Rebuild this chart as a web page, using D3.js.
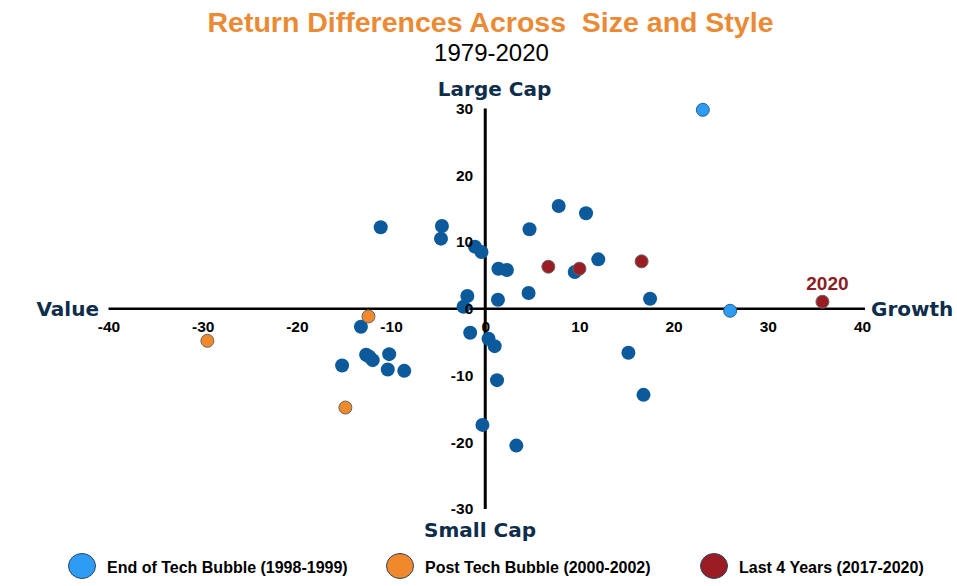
<!DOCTYPE html>
<html>
<head>
<meta charset="utf-8">
<script src="https://cdn.jsdelivr.net/npm/d3@7"></script>
<style>
  body { margin: 0; background: #fff; }
</style>
</head>
<body>
<div id="chart"></div>
<script>
// tick values
const xTicks = [-40, -30, -20, -10, 0, 10, 20, 30, 40];
const yTicks = [-30, -20, -10, 0, 10, 20, 30];

// growth minus value (x), large minus small (y), yearly return differences
const otherX = [-11.1, -4.6, -4.7, -1.1, -0.4, 1.4, 2.3, -1.9, -2.3, 1.35, 4.7, 7.8, 10.7, 9.5, 12.0, 4.6, 17.5,
  15.2, 16.8, -13.2, -12.65, -12.3, -11.95, -10.2, -15.2, -10.35, -8.6, -1.6, 0.35, 1.0, 1.25, -0.3, 3.3];
const otherY = [12.2, 12.4, 10.5, 9.3, 8.5, 6.0, 5.8, 1.9, 0.3, 1.35, 11.9, 15.4, 14.3, 5.5, 7.4, 2.35, 1.5,
  -6.6, -12.9, -2.7, -6.9, -7.2, -7.7, -6.8, -8.5, -9.1, -9.3, -3.6, -4.5, -5.6, -10.7, -17.4, -20.5];

const techBubbleX = [23.1, 26.0];
const techBubbleY = [29.8, -0.3];

const postBubbleX = [-12.4, -29.5, -14.85];
const postBubbleY = [-1.15, -4.8, -14.8];

const lastYearsX = [6.7, 10.0, 16.6, 35.8];
const lastYearsY = [6.3, 6.0, 7.1, 1.05];
const lastYearsLabels = ["", "", "", "2020"];

const legendLabels = ["End of Tech Bubble (1998-1999)", "Post Tech Bubble (2000-2002)", "Last 4 Years (2017-2020)"];
const legendColors = ["#2f9cf4", "#f0892c", "#9a1d24"];

const width = 957, height = 586;
const xScale = d3.scaleLinear([-40, 40], [108.5, 862]);
const yScale = d3.scaleLinear([-30, 30], [509, 108.5]);

const svg = d3.select("#chart").append("svg")
    .attr("width", width)
    .attr("height", height)
    .attr("viewBox", [0, 0, width, height])
    .attr("font-family", "'Liberation Sans', Arial, sans-serif");

// titles
svg.append("text")
    .attr("x", 490.5).attr("y", 31.5)
    .attr("text-anchor", "middle")
    .attr("font-size", 28.5).attr("font-weight", "bold")
    .attr("fill", "#ea8a35")
    .attr("xml:space", "preserve")
    .text("Return Differences Across  Size and Style");

svg.append("text")
    .attr("x", 491.5).attr("y", 61)
    .attr("text-anchor", "middle")
    .attr("font-size", 24)
    .attr("fill", "#000")
    .text("1979-2020");

// quadrant labels
const quad = svg.append("g")
    .attr("font-family", "'DejaVu Sans', Verdana, sans-serif")
    .attr("font-size", 20).attr("font-weight", "bold")
    .attr("fill", "#0e2d4b");
quad.append("text").attr("x", 494.5).attr("y", 96).attr("text-anchor", "middle").text("Large Cap");
quad.append("text").attr("x", 480).attr("y", 537).attr("text-anchor", "middle").text("Small Cap");
quad.append("text").attr("x", 99).attr("y", 315.5).attr("text-anchor", "end").text("Value");
quad.append("text").attr("x", 871).attr("y", 315.5).attr("text-anchor", "start").text("Growth");

// axis lines
svg.append("line")
    .attr("x1", xScale(-40)).attr("x2", xScale(40) + 3)
    .attr("y1", yScale(0)).attr("y2", yScale(0))
    .attr("stroke", "#000").attr("stroke-width", 2.5);
svg.append("line")
    .attr("x1", xScale(0)).attr("x2", xScale(0))
    .attr("y1", yScale(30)).attr("y2", yScale(-30))
    .attr("stroke", "#000").attr("stroke-width", 3);

// points
svg.append("g")
    .attr("fill", "#0c5a9c")
  .selectAll("circle")
  .data(d3.range(otherX.length))
  .join("circle")
    .attr("cx", i => xScale(otherX[i]))
    .attr("cy", i => yScale(otherY[i]))
    .attr("r", 7);

const groups = [
  {X: techBubbleX, Y: techBubbleY, color: legendColors[0], stroke: "#2a5f8c"},
  {X: postBubbleX, Y: postBubbleY, color: legendColors[1], stroke: "#666"},
  {X: lastYearsX, Y: lastYearsY, color: legendColors[2], stroke: "#666"}
];
groups.forEach(g => {
  svg.append("g")
      .attr("fill", g.color)
      .attr("stroke", g.stroke)
      .attr("stroke-width", 1)
    .selectAll("circle")
    .data(d3.range(g.X.length))
    .join("circle")
      .attr("cx", i => xScale(g.X[i]))
      .attr("cy", i => yScale(g.Y[i]))
      .attr("r", 6.5);
});

svg.append("g")
    .attr("fill", "#8b1e24")
    .attr("font-size", 19).attr("font-weight", "bold")
    .attr("text-anchor", "middle")
  .selectAll("text")
  .data(d3.range(lastYearsX.length).filter(i => lastYearsLabels[i]))
  .join("text")
    .attr("x", i => xScale(lastYearsX[i]) + 5)
    .attr("y", i => yScale(lastYearsY[i]) - 12)
    .text(i => lastYearsLabels[i]);

// tick labels (no tick marks, no domain), plain hyphen for negatives
const xAxis = d3.axisBottom(xScale).tickValues(xTicks).tickFormat(d => String(d)).tickSize(0).tickPadding(12);
const yAxis = d3.axisLeft(yScale).tickValues(yTicks).tickFormat(d => String(d)).tickSize(0).tickPadding(12);

const styleTicks = g => g.selectAll("text")
    .attr("font-family", "'Liberation Sans', Arial, sans-serif")
    .attr("font-size", 15.5).attr("font-weight", "bold").attr("fill", "#000");

svg.append("g")
    .attr("transform", `translate(0,${yScale(0)})`)
    .call(xAxis)
    .call(g => g.select(".domain").remove())
    .call(styleTicks);

svg.append("g")
    .attr("transform", `translate(${xScale(0)},0)`)
    .call(yAxis)
    .call(g => g.select(".domain").remove())
    .call(styleTicks);

// legend
const legendX = [82, 400, 714];
const legend = svg.append("g")
  .selectAll("g")
  .data(legendLabels)
  .join("g")
    .attr("transform", (d, i) => `translate(${legendX[i]},566)`);
legend.append("ellipse")
    .attr("rx", 13.5).attr("ry", 12.5)
    .attr("fill", (d, i) => legendColors[i])
    .attr("stroke", "#2b4766").attr("stroke-width", 1);
legend.append("text")
    .attr("x", 25).attr("y", 7)
    .attr("font-size", 16).attr("font-weight", "bold")
    .attr("fill", "#000")
    .text(d => d);
</script>
</body>
</html>
